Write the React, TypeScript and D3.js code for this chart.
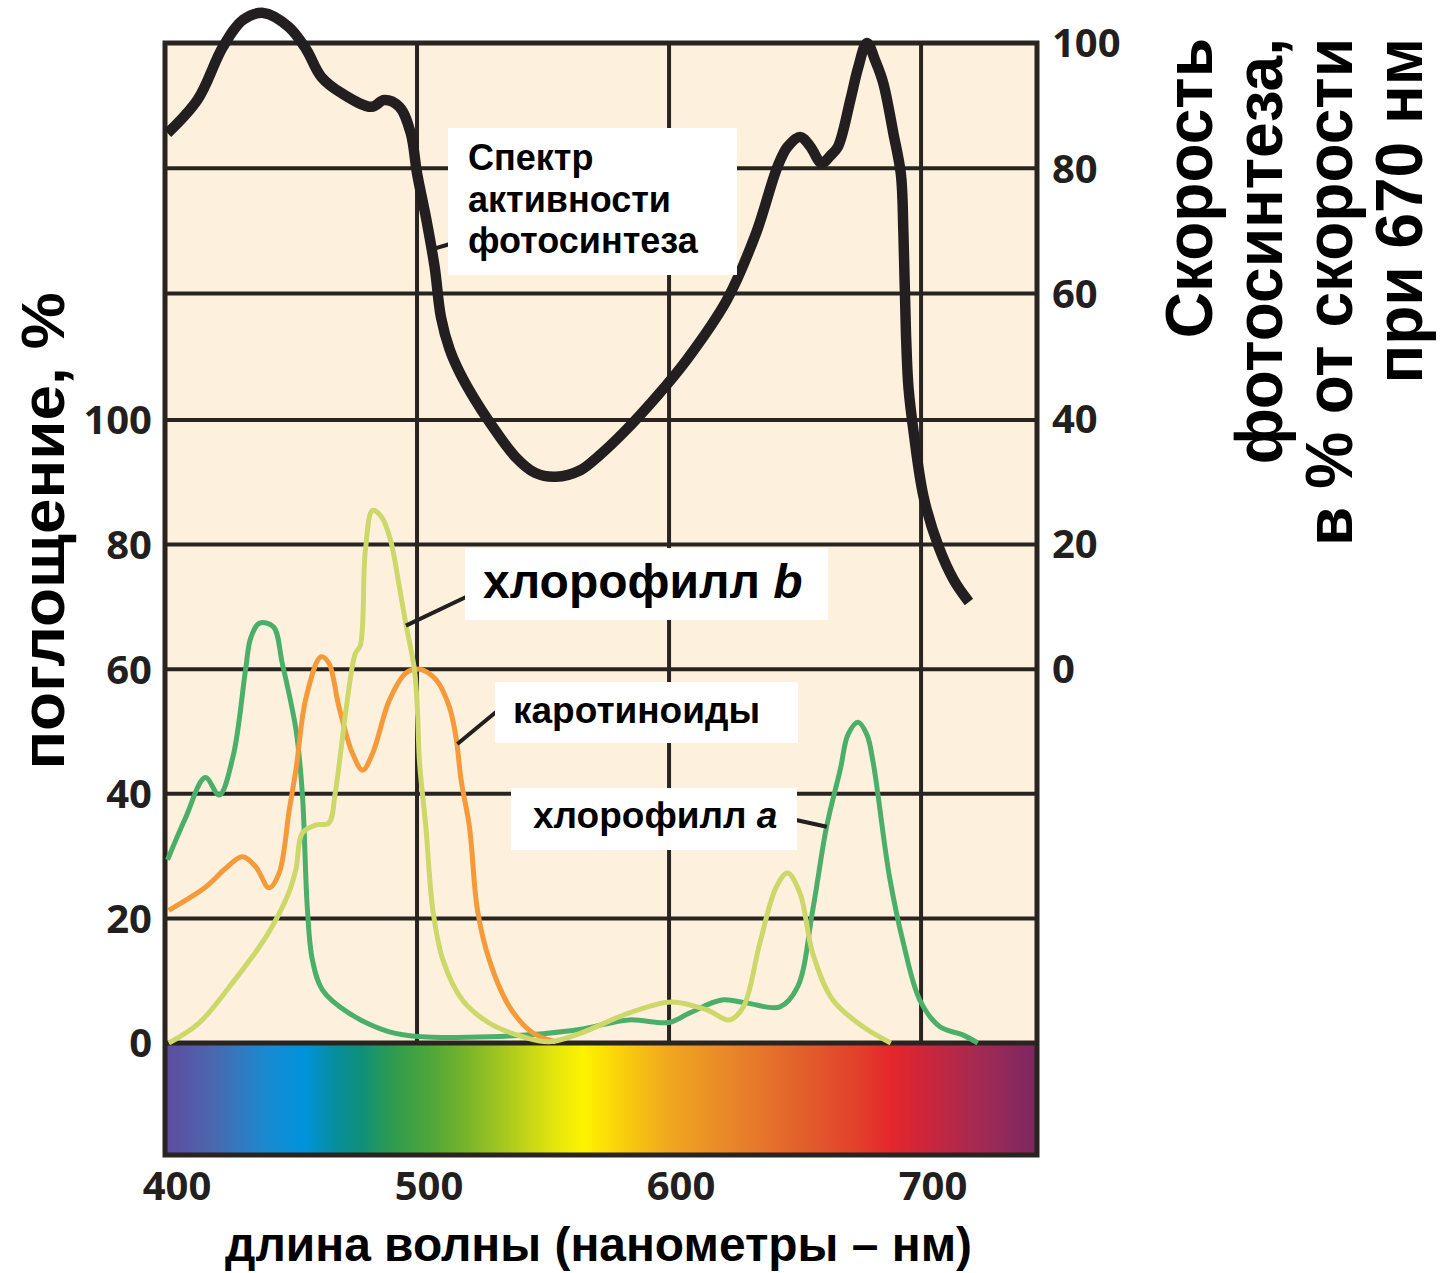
import React from 'react'
import * as d3 from 'd3'

// длина волны, нм
const wavelengthTicks = [400, 500, 600, 700]
// поглощение, % (левая ось)
const absorptionTicks = [0, 20, 40, 60, 80, 100]
// скорость фотосинтеза, % (правая ось)
const rateTicks = [0, 20, 40, 60, 80, 100]

// [нм, поглощение %]
const chlorophyllA: [number, number][] = [
  [401, 29.4], [408, 36], [416, 42.6], [421.5, 39.8], [427, 46], [432, 60], [434, 65],
  [437.5, 67.4], [443, 66.8], [446.5, 61], [452, 50.2], [454.5, 40], [456.5, 21.5],
  [458.5, 13.3], [462.5, 8.5], [473, 4.8], [489, 1.8], [502, 1], [529, 1], [550, 1.5],
  [565, 2.2], [584, 3.7], [600, 3.3], [608, 4.8], [621, 6.9], [631, 6.4], [644, 5.8],
  [651, 9], [657, 21.3], [662.5, 34.7], [668, 44], [671, 49.5], [675, 51.5], [678.5, 49.5],
  [681, 45], [687.5, 26.6], [693, 16], [699.5, 6.9], [707.5, 2.6], [716.5, 1.3], [722.5, 0],
]

const chlorophyllB: [number, number][] = [
  [401.5, 0], [413.5, 3.2], [425.5, 9], [440, 17], [449, 24], [452, 28], [454.5, 33.7],
  [460, 35], [465, 35.3], [467.5, 40], [469.5, 46], [472, 54], [475.5, 62.5], [477.5, 63.8],
  [479.5, 79], [482.4, 85.5], [486, 84.4], [489.5, 80.7], [493, 73.2], [495.5, 67.4],
  [499, 59.9], [500.2, 53], [501, 45], [503.5, 34.7], [506.3, 21.3], [510.3, 13.3],
  [518, 6.9], [528.7, 3.2], [542, 1], [552.5, 0.2], [565, 1.6], [584, 4.8], [601, 6.6],
  [615, 5.3], [624, 3.7], [629.5, 5.8], [636, 16], [642.5, 25], [647, 27.3], [652, 24],
  [657, 14.4], [665, 6.9], [677, 2.6], [688, 0],
]

const carotenoids: [number, number][] = [
  [401.5, 21.3], [416, 25], [424, 28], [430.7, 29.9], [436, 28.3], [441.3, 24.9],
  [445.3, 27.3], [449.3, 37.4], [452, 44], [456, 55.5], [461.9, 62], [465, 61], [469, 54],
  [474.4, 46.5], [478.4, 43.8], [482.4, 46.5], [489, 55], [495.6, 59.4], [501, 60],
  [507.6, 58.3], [512.8, 54], [515.5, 49], [517.5, 42.2], [520.8, 34.7], [524, 21.3],
  [528.7, 13.3], [536.7, 5.8], [546, 1.6], [555, 0.2],
]

// [нм, скорость фотосинтеза % от скорости при 670 нм]
const actionSpectrum: [number, number][] = [
  [401, 85.6], [413, 91], [423, 99.4], [431, 103.7], [439, 104.8], [449, 102.6], [456, 99],
  [462, 94.6], [470, 92], [482, 89.8], [487, 90.9], [493, 89.8], [497.5, 85.6], [500, 79.2],
  [503.5, 72.2], [507, 64.2], [509.5, 56.2], [513, 51], [517, 47.3], [523, 43], [529, 39.3],
  [539, 33.9], [547, 31.3], [555, 30.7], [565, 31.8], [572, 34], [582, 37.8], [595, 43.5],
  [607, 49.4], [623, 59], [634.5, 69.6], [643, 80.2], [647, 83.4], [652, 85], [656, 83.5],
  [660.5, 80.8], [664, 82], [667, 83.4], [672, 91], [675, 96], [678.5, 100], [682, 97],
  [685, 93.6], [689, 85.6], [692, 79], [693, 69.6], [694, 53.7], [695, 45], [697, 38],
  [701, 27.5], [707, 19.5], [713, 14.2], [719, 10.7],
]

// цвета полосы спектра по длине волны
const spectrumStops: [number, string][] = [
  [400, '#5e4b9f'], [418, '#4c66ae'], [440, '#1b8ad0'], [455, '#0093dc'], [468, '#078e9b'],
  [478, '#10907a'], [490, '#2e9b50'], [505, '#4ea63a'], [520, '#79b52a'], [540, '#b8cf1a'],
  [555, '#e6e60c'], [566, '#fdf300'], [580, '#fad20a'], [600, '#f0a61f'], [625, '#e8852a'],
  [650, '#e2632b'], [675, '#e3402c'], [688, '#e5262b'], [705, '#c6263f'], [725, '#a02a55'],
  [746, '#7b2762'],
]

const rateTitle = ['Скорость', 'фотосинтеза,', 'в % от скорости', 'при 670 нм']

const W = 1447
const H = 1273
const left = 165
const right = 1037
const top = 43
const zero = 1043
const bottom = 1155

const ink = '#2a2421'
const font = '"Liberation Sans", Arial, sans-serif'
const tickFont = '"Open Sans", "DejaVu Sans", sans-serif'

export default function App() {
  const x = d3.scaleLinear().domain([400, 746]).range([left, right])
  const yAbs = d3.scaleLinear().domain([0, 100]).range([zero, 420])
  const yRate = d3.scaleLinear().domain([0, 100]).range([669, top])

  const absLine = d3.line<[number, number]>()
    .x(d => x(d[0]))
    .y(d => yAbs(d[1]))
    .curve(d3.curveCatmullRom.alpha(0.5))

  const rateLine = d3.line<[number, number]>()
    .x(d => x(d[0]))
    .y(d => yRate(d[1]))
    .curve(d3.curveCatmullRom.alpha(0.5))

  const hLines = [
    ...absorptionTicks.filter(t => t > 0).map(t => yAbs(t)),
    ...rateTicks.filter(t => t > 40 && t < 100).map(t => yRate(t)),
  ]

  return (
    <svg width={W} height={H} style={{ position: 'absolute', left: 0, top: 0, background: '#fff' }}>
      <defs>
        <linearGradient id="spectrum" gradientUnits="userSpaceOnUse" x1={left} x2={right} y1={0} y2={0}>
          {spectrumStops.map(([nm, c], i) => (
            <stop key={i} offset={(x(nm) - left) / (right - left)} stopColor={c} />
          ))}
        </linearGradient>
      </defs>

      {/* поле графика */}
      <rect x={left} y={top} width={right - left} height={zero - top} fill="#fdf1de" />
      <rect x={left} y={zero} width={right - left} height={bottom - zero} fill="url(#spectrum)" />

      {hLines.map((y, i) => (
        <line key={'h' + i} x1={left} x2={right} y1={y} y2={y} stroke={ink} strokeWidth={4} />
      ))}
      {wavelengthTicks.filter(t => t > 400).map(t => (
        <line key={'v' + t} x1={x(t)} x2={x(t)} y1={top} y2={zero} stroke={ink} strokeWidth={4} />
      ))}
      <line x1={left} x2={right} y1={zero} y2={zero} stroke={ink} strokeWidth={5} />
      <rect x={left} y={top} width={right - left} height={bottom - top} fill="none" stroke={ink} strokeWidth={5} />

      {/* кривые поглощения */}
      <path d={absLine(chlorophyllA) || ''} fill="none" stroke="#4caf69" strokeWidth={5} strokeLinejoin="round" />
      <path d={absLine(carotenoids) || ''} fill="none" stroke="#f49a3a" strokeWidth={5} strokeLinejoin="round" />
      <path d={absLine(chlorophyllB) || ''} fill="none" stroke="#cdd76a" strokeWidth={5} strokeLinejoin="round" />

      {/* спектр действия фотосинтеза */}
      <path d={rateLine(actionSpectrum) || ''} fill="none" stroke="#231f20" strokeWidth={10.5} strokeLinejoin="round" />

      {/* подписи кривых */}
      <line x1={x(505.5)} y1={yRate(67)} x2={450} y2={244} stroke="#231f20" strokeWidth={4} />
      <rect x={448} y={128} width={289} height={147} fill="#fff" />
      <g fontFamily={font} fontWeight={700} fontSize={36} fill="#000">
        <text x={468} y={170}>Спектр</text>
        <text x={468} y={212}>активности</text>
        <text x={468} y={253}>фотосинтеза</text>
      </g>

      <line x1={x(495.6)} y1={yAbs(67)} x2={466} y2={597} stroke="#231f20" strokeWidth={4} />
      <rect x={465} y={548} width={363} height={72} fill="#fff" />
      <text x={483} y={598} fontFamily={font} fontWeight={700} fontSize={48} fill="#000">
        хлорофилл <tspan fontStyle="italic">b</tspan>
      </text>

      <line x1={x(516)} y1={yAbs(48)} x2={496} y2={712} stroke="#231f20" strokeWidth={4} />
      <rect x={495} y={682} width={303} height={61} fill="#fff" />
      <text x={513} y={723} fontFamily={font} fontWeight={700} fontSize={37} fill="#000">каротиноиды</text>

      <line x1={796} y1={820} x2={x(662.6)} y2={yAbs(34.7)} stroke="#231f20" strokeWidth={4} />
      <rect x={511} y={788} width={286} height={62} fill="#fff" />
      <text x={533} y={828} fontFamily={font} fontWeight={700} fontSize={37} fill="#000">
        хлорофилл <tspan fontStyle="italic">a</tspan>
      </text>

      {/* оси */}
      <g fontFamily={tickFont} fontWeight={700} fontSize={40} fill="#231f20">
        {absorptionTicks.map(t => (
          <text key={'l' + t} x={152} y={yAbs(t)} dy="0.36em" textAnchor="end">{t}</text>
        ))}
        {rateTicks.map(t => (
          <text key={'r' + t} x={1052} y={yRate(t)} dy="0.36em">{t}</text>
        ))}
        {wavelengthTicks.map(t => (
          <text key={'x' + t} x={x(t) + 12} y={1200} textAnchor="middle">{t}</text>
        ))}
      </g>

      <text x={225} y={1261} fontFamily={font} fontWeight={700} fontSize={48} fill="#000"
        textLength={747} lengthAdjust="spacingAndGlyphs">длина волны (нанометры – нм)</text>

      <g fontFamily={font} fontWeight={700} fill="#000">
        <text transform="translate(64,531) rotate(-90)" fontSize={62} textAnchor="middle"
          textLength={477} lengthAdjust="spacingAndGlyphs">
          поглощение, %
        </text>
        {rateTitle.map((s, i) => (
          <text key={s} transform={`translate(${1212 + i * 70},38) rotate(-90) scale(0.97,1)`} fontSize={66} textAnchor="end">
            {s}
          </text>
        ))}
      </g>
    </svg>
  )
}
